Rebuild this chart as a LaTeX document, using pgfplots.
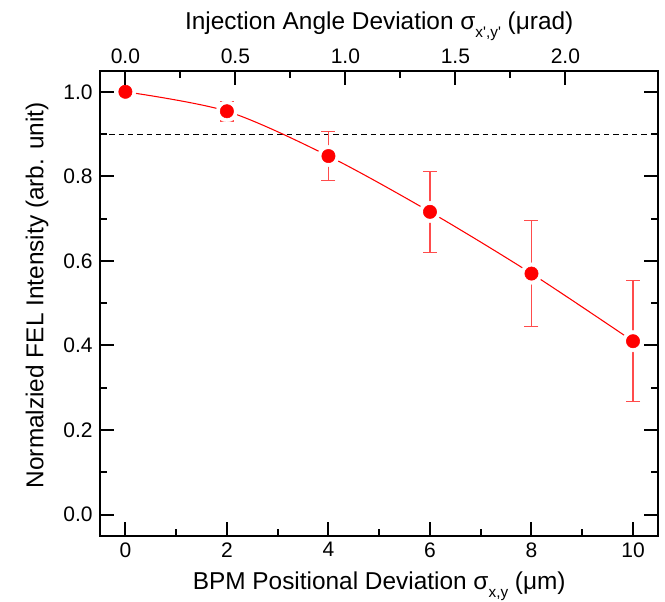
\documentclass[border=0pt]{standalone}
\usepackage{fontspec}
\setmainfont{Liberation Sans}
\usepackage{pgfplots}
\pgfplotsset{compat=1.18}

% measured: deviation vs normalized intensity
\pgfplotstableread{
x    y      e
2    0.954  0.023
4    0.848  0.058
6    0.716  0.096
8    0.570  0.125
10   0.410  0.143
}\witherr
\pgfplotstableread{
x    y
0    1.000
2    0.954
4    0.848
6    0.716
8    0.570
10   0.410
}\alldata

\newcommand{\sub}[1]{\raisebox{-0.55ex}{\fontsize{11.5}{12}\selectfont #1}}

\pgfplotsset{
 common/.style={
  scale only axis,width=418.8pt,height=348.75pt,
  axis line style={line width=1.5pt},
  every tick/.style={black,line width=1.5pt},
  major tick length=10.5pt,minor tick length=5.25pt,
  tick align=inside,
  tick label style={font=\fontsize{15.75}{18}\selectfont},
  label style={font=\fontsize{18.3}{22}\selectfont},
  /pgf/number format/assume math mode=true,
 },
}

\begin{document}
\begin{tikzpicture}
\path[use as bounding box] (-75pt,-49.7pt) rectangle (423.75pt,401.75pt);
\begin{axis}[common,
 xmin=-0.5,xmax=10.5,ymin=-0.05,ymax=1.05,
 xtick={0,2,...,10},minor x tick num=1,
 ytick={0,0.2,...,1.0},minor y tick num=1,
 xtick pos=bottom,ytick pos=both,yticklabel pos=left,
 yticklabel style={xshift=-2pt,/pgf/number format/fixed,/pgf/number format/fixed zerofill,/pgf/number format/precision=1},
 xticklabel style={yshift=-1.5pt},
 xlabel={BPM Positional Deviation σ\sub{x,y} (μm)},
 ylabel={Normalzied FEL Intensity (arb. unit)},
 xlabel style={at={(axis description cs:0.5,-0.1168)},anchor=base},
 ylabel style={at={(axis description cs:-0.1014,0.517)},anchor=base},
 clip=false,
]
\addplot[black,line width=0.8pt,dash pattern=on 4pt off 3pt] coordinates {(-0.5,0.9) (10.5,0.9)};
\addplot[red,line width=0.8pt,smooth,mark=none] table[x=x,y=y] {\alldata};
\addplot[white,only marks,mark=*,mark size=8pt,mark options={fill=white,draw=white}] table[x=x,y=y] {\alldata};
\addplot[red,only marks,mark=*,mark size=5pt,mark options={fill=red,draw=red},
 error bars/.cd,y dir=both,y explicit,
 error bar style={red!70,line width=1.1pt},
 error mark options={rotate=90,mark size=5.25pt,red!70,line width=1.1pt}]
 table[x=x,y=y,y error=e] {\witherr};
\addplot[red,only marks,mark=*,mark size=5pt,mark options={fill=red,draw=red}] coordinates {(0,1.0)};
\end{axis}
\begin{axis}[common,
 xmin=-0.11537,xmax=2.42270,ymin=-0.05,ymax=1.05,
 axis x line*=top,hide y axis,
 xtick={0,0.5,...,2.0},minor x tick num=1,
 xticklabel style={yshift=1.5pt,/pgf/number format/fixed,/pgf/number format/fixed zerofill,/pgf/number format/precision=1},
 xlabel={Injection Angle Deviation σ\sub{x\textquotesingle,y\textquotesingle} (μrad)},
 xlabel style={at={(axis description cs:0.5,1.0875)},anchor=base},
]
\end{axis}
\end{tikzpicture}
\end{document}
